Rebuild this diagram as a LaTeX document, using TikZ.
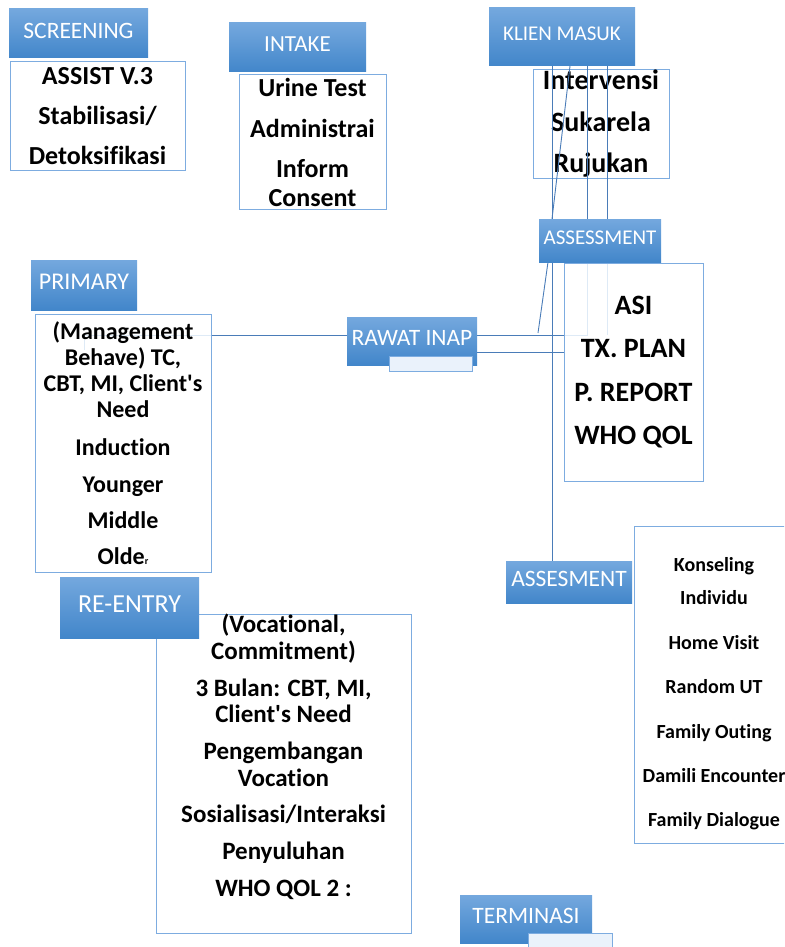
\documentclass[tikz,border=0pt]{standalone}
\usepackage{fontspec}
\setmainfont{Carlito}[Ligatures={TeXOff,CommonOff}]
\usepackage{tikz}
\usetikzlibrary{calc,positioning}
\definecolor{headtop}{RGB}{116,168,222}
\definecolor{headbot}{RGB}{66,134,202}
\definecolor{boxline}{RGB}{125,172,224}
\definecolor{linkline}{RGB}{74,124,184}
\definecolor{faintline}{RGB}{222,234,246}
\definecolor{subfill}{RGB}{234,242,251}
\newcommand{\fsz}[2]{\fontsize{#1}{#2}\selectfont}

\begin{document}
\begin{tikzpicture}[x=1pt,y=-1pt,
	head/.style={top color=headtop, bottom color=headbot, text=white, inner sep=0pt, text depth=6pt},
	body/.style={draw=boxline, line width=1pt, fill=white, align=center, inner sep=0pt},
	subbox/.style={draw=boxline, line width=1pt, fill=subfill, inner sep=0pt},
	link/.style={draw=linkline, line width=0.9pt},
	faint/.style={draw=faintline, line width=0.9pt}]
	 		\path[use as bounding box] (0,0) rectangle (784,947);
	 		\clip (0,0) rectangle (784,947);
	 		\coordinate (tail) at (538,333);
	 		\coordinate (r1) at (477,335);
	 		\coordinate (r2) at (477,352);
	 		% faint lines behind the boxes
	 		\draw[faint] (84,350) -- (84,335) -- (211,335);
	 		\draw[faint] (587,263) -- (587,335) -- (564,335);
	 		\draw[faint] (607,263) -- (607,335);
	 		% boxes under the lines
	 		\node[body, minimum width=136pt, minimum height=108pt, font=\bfseries\fsz{28}{41.5}] (intervbox) at (601,124) {Intervensi\\Sukarela\\Rujukan};
	 		\node[body, fill=none, minimum width=176pt, minimum height=258pt, font=\bfseries\fsz{24}{26}] (primbox) at (123,443) {(Management\\Behave) TC,\\CBT, MI, Client's\\Need\\[12pt]Induction\\[11pt]Younger\\[10pt]Middle\\[10pt]Olde{\fsz{10}{10}r}};
	 		\node[body, fill=none, minimum width=139pt, minimum height=218pt, font=\bfseries\fsz{28}{43.3}] (asibox) at (633.5,372) {ASI\\TX. PLAN\\P. REPORT\\WHO QOL};
	 		% lines
	 		\draw[link] (primbox.east |- r1) -- (347,0 |- r1);
	 		\draw[link] (r1) -- (asibox.west |- r1);
	 		\draw[link] (r2) -- (asibox.west |- r2);
	 		\draw[link] (552,66) -- (552,561);
	 		\draw[link] (570,66) -- (552,219);
	 		\draw[link] (587,66) -- (587,219);
	 		\draw[link] (607,66) -- (607,219);
	 		\draw[link] (548,262) -- (tail);
	 		% other boxes
	 		\node[body, minimum width=175pt, minimum height=108pt, font=\bfseries\fsz{26}{40}] (assistbox) at (97.5,116) {ASSIST V.3\\Stabilisasi/\\Detoksifikasi};
	 		\node[body, minimum width=147pt, minimum height=134pt, font=\bfseries\fsz{26}{29}] (urinebox) at (312.5,142) {Urine Test\\[12pt]Administrai\\[11pt]Inform\\Consent};
	 		\node[body, minimum width=255pt, minimum height=319pt, font=\bfseries\fsz{25}{26.5}] (reentrybox) at (283.5,773.5) {(Vocational,\\Commitment)\\[10.5pt]3 Bulan: CBT, MI,\\Client's Need\\[10.5pt]Pengembangan\\Vocation\\[9.5pt]Sosialisasi/Interaksi\\[10.5pt]Penyuluhan\\[10.5pt]WHO QOL 2 :\\[10pt]\mbox{}};
	 		\node[body, minimum width=160pt, minimum height=317pt, font=\bfseries\fsz{20}{33}] (konbox) at (714,684.5) {\mbox{}\\Konseling\\Individu\\[11.5pt]Home Visit\\[11.5pt]Random UT\\[11.5pt]Family Outing\\[11pt]Damili Encounter\\[11.5pt]Family Dialogue};
	 		% headers
	 		\node[head, minimum width=139pt, minimum height=49pt, font=\fsz{23.5}{26}] (screening) at (78.5,33.5) {SCREENING};
	 		\node[head, minimum width=137pt, minimum height=49pt, font=\fsz{23}{26}] (intake) at (297.5,47.5) {INTAKE};
	 		\node[head, minimum width=146pt, minimum height=58pt, font=\fsz{21}{24}] (klien) at (562,37) {KLIEN MASUK};
	 		\node[head, minimum width=122pt, minimum height=43pt, font=\fsz{21}{24}] (assess1) at (600,240.5) {ASSESSMENT};
	 		\node[head, minimum width=106pt, minimum height=50pt, font=\fsz{24}{26}] (primary) at (84,285) {PRIMARY};
	 		\node[head, minimum width=130pt, minimum height=48pt, font=\fsz{23.5}{26}] (rawat) at (412,341) {RAWAT INAP};
	 		\node[head, minimum width=139pt, minimum height=61pt, font=\fsz{26}{28}] (reentry) at (129.5,607.5) {RE-ENTRY};
	 		\node[head, minimum width=126pt, minimum height=42pt, font=\fsz{23.5}{26}] (assess2) at (569,582) {ASSESMENT};
	 		\node[head, minimum width=132pt, minimum height=48pt, font=\fsz{23.5}{26}] (terminasi) at (526,919) {TERMINASI};
	 		\node[subbox, minimum width=83pt, minimum height=15pt] (rawatsub) at (430.5,363.5) {};
	 		\node[subbox, minimum width=84pt, minimum height=24pt] (termsub) at (570,945) {};
	 	\end{tikzpicture}
\end{document}
